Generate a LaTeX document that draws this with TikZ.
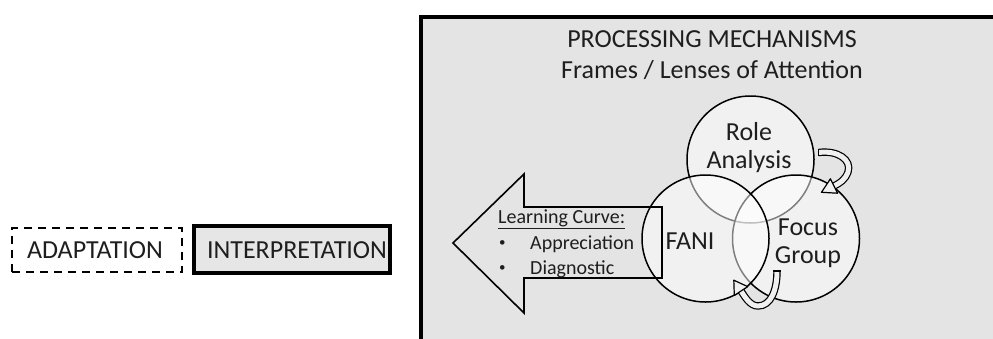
\documentclass[tikz,border=0pt]{standalone}
\usepackage{fontspec}
\setmainfont{Carlito}
\definecolor{panelgray}{HTML}{E4E4E4}
\definecolor{boxgray}{HTML}{E6E6E6}
\definecolor{bandfill}{HTML}{F0F0F0}
\definecolor{ink}{HTML}{1E1E1E}
\tikzset{
  lbl/.style={text=ink, inner sep=0pt, font=\fontsize{26}{30}\selectfont},
  small/.style={text=ink, inner sep=0pt, font=\fontsize{20}{24}\selectfont},
  dot/.style={text=ink, inner sep=0pt, font=\fontsize{13}{16}\selectfont},
  lens/.style={circle, draw=black, line width=1.5pt, fill=white, fill opacity=0.5,
               draw opacity=1, minimum size=127pt, inner sep=0pt},
  band/.style={line width=1.2pt, double=bandfill, double distance=5pt},
  head/.style={draw=black, fill=bandfill, line width=1.2pt, line join=round},
}
\begin{document}
\begin{tikzpicture}[x=1pt,y=-1pt]
\useasboundingbox (0,0) rectangle (993,338);
\clip (0,0) rectangle (993,338);

% left stage boxes
\node[draw=black, dashed, dash pattern=on 8pt off 6pt, line width=1.3pt,
      fill=white, minimum width=170pt, minimum height=44pt] (adapt) at (97,250) {};
\node[lbl, anchor=base] (adapttxt) at (95,258) {ADAPTATION};
\node[draw=black, line width=3.5pt, fill=boxgray,
      minimum width=196pt, minimum height=47pt] (interp) at (292,249.5) {};
\node[lbl, anchor=base] (interptxt) at (297,258) {INTERPRETATION};

% processing panel
\draw[line width=4pt, fill=panelgray] (420.5,16.5) rectangle (1020,360);
\node[lbl, anchor=base] (title) at (712,47) {PROCESSING MECHANISMS};
\node[lbl, anchor=base] (subtitle) at (712,78) {Frames / Lenses of Attention};

% overlapping lenses
\node[lens] (role)  at (750.5,159.5) {};
\node[lens] (focus) at (796,238.5) {};
\node[lens] (fani)  at (705.5,238.5) {};

% learning-curve block arrow
\draw[line width=1.6pt, line join=miter]
  (662,207) -- (524,207) -- (524,174) -- (453,243) -- (524,313)
  -- (524,278) -- (662,278) -- cycle;

% curved arrow: role analysis -> focus group
\coordinate (t1) at ([shift={(4,-7)}]role.east);
\coordinate (b1) at (834,186);
\draw[band] (t1) .. controls (838,150) and (852,160) .. (848,172)
  .. controls (845,180) and (840,183) .. (b1);
\draw[line width=1.2pt] ([shift={(0,-3.7)}]t1) -- ([shift={(0,3.7)}]t1);
\draw[head] (837.6,193.2) -- (821.5,192.3) -- (830.4,178.8) -- cycle;

% curved arrow: focus group -> FANI
\coordinate (t2) at (777,271);
\coordinate (b2) at (741,291);
\draw[band] (t2) .. controls (777,290) and (771,306) .. (758,306)
  .. controls (750,306) and (745,297) .. (b2);
\draw[line width=1.2pt] ([shift={(-3.7,0)}]t2) -- ([shift={(3.7,0)}]t2);
\draw[head] (747.7,286.6) -- (733.8,280.2) -- (734.3,295.4) -- cycle;

% lens labels
\node[lbl, anchor=base] (roletxt) at (749,140) {Role};
\node[lbl, anchor=base] (roletxt2) at (749,168) {Analysis};
\node[lbl, anchor=base] (fanitxt) at (690,249) {FANI};
\node[lbl, anchor=base] (focustxt) at (808,235) {Focus};
\node[lbl, anchor=base] (focustxt2) at (808,263) {Group};

% arrow text
\node[small, anchor=base west] (lc) at (498,223) {\underline{Learning Curve:}};
\node[dot, anchor=base west] (b1t) at (499,246) {\textbullet};
\node[small, anchor=base west] (app) at (530,249) {Appreciation};
\node[dot, anchor=base west] (b2t) at (499,271) {\textbullet};
\node[small, anchor=base west] (diag) at (530,274) {Diagnostic};
\end{tikzpicture}
\end{document}
